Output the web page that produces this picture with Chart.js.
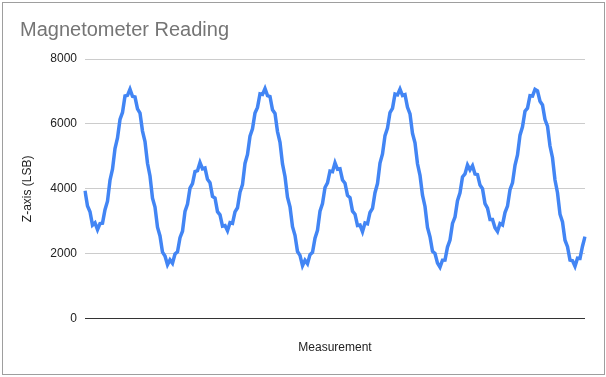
<!DOCTYPE html>
<html>
<head>
<meta charset="utf-8">
<script src="https://cdn.jsdelivr.net/npm/chart.js@4/dist/chart.umd.min.js"></script>
<style>
    html, body { margin: 0; padding: 0; background: #fff; }
    #wrap { position: relative; width: 606px; height: 377px; }
    #card { position: absolute; left: 2px; top: 2px; width: 601px; height: 371px; border: 1px solid #9e9e9e; pointer-events: none; }
</style>
</head>
<body>
<div id="wrap">
    <canvas id="magChart" width="606" height="377"></canvas>
    <div id="card"></div>
</div>
<script>
// Z-axis readings (one value every ~2.5px)
var zReadings = [
    3940, 3470, 3295, 2880, 2950, 2740, 2931, 2941, 3357, 3617,
    4265, 4603, 5242, 5565, 6138, 6353, 6859, 6879, 7070, 6849,
    6828, 6463, 6334, 5778, 5454, 4787, 4395, 3713, 3436, 2817,
    2546, 2047, 1932, 1661, 1810, 1706, 1991, 2059, 2495, 2692,
    3300, 3528, 4020, 4161, 4529, 4559, 4810, 4617, 4639, 4292,
    4189, 3765, 3715, 3296, 3198, 2851, 2868, 2710, 2956, 2937,
    3291, 3415, 3895, 4131, 4781, 5059, 5619, 5850, 6335, 6509,
    6928, 6909, 7090, 6869, 6843, 6433, 6324, 5763, 5434, 4767,
    4380, 3743, 3446, 2832, 2566, 2067, 1947, 1631, 1800, 1691,
    1971, 2039, 2480, 2722, 3310, 3543, 4040, 4181, 4544, 4529,
    4800, 4602, 4619, 4272, 4174, 3795, 3725, 3311, 3218, 2871,
    2883, 2680, 2946, 2922, 3271, 3395, 3880, 4161, 4791, 5074,
    5639, 5870, 6350, 6479, 6918, 6894, 7070, 6874, 6903, 6513,
    6309, 5708, 5414, 4772, 4415, 3803, 3456, 2807, 2521, 2072,
    2007, 1711, 1585, 1801, 1806, 2204, 2420, 2932, 3130, 3633,
    3875, 4366, 4459, 4734, 4585, 4712, 4454, 4437, 4114, 4005,
    3545, 3401, 3053, 3056, 2798, 2685, 2931, 2887, 3266, 3465,
    3970, 4181, 4726, 5044, 5654, 5910, 6390, 6484, 6868, 6859,
    7065, 7019, 6698, 6583, 6134, 5933, 5319, 4957, 4270, 3878,
    3216, 2977, 2416, 2217, 1802, 1781, 1610, 1861, 1856, 2229,
    2525
];

// measurement numbers for the x axis
var measurements = zReadings.map(function (v, i) { return i + 1; });

var yTicks = [0, 2000, 4000, 6000, 8000];

var chart = new Chart(document.getElementById('magChart'), {
    type: 'line',
    data: {
        labels: measurements,
        datasets: [{
            data: zReadings,
            borderColor: '#4285f4',
            borderWidth: 3.5,
            pointRadius: 0,
            tension: 0,
            fill: false
        }]
    },
    options: {
        responsive: false,
        animation: false,
        layout: {
            padding: { left: 20, right: 21, top: 0, bottom: 0 }
        },
        plugins: {
            legend: { display: false },
            tooltip: { enabled: false },
            title: {
                display: true,
                text: 'Magnetometer Reading',
                align: 'start',
                color: '#757575',
                font: { family: 'Arial, "Liberation Sans"', size: 20, weight: 'normal' },
                padding: { top: 18, bottom: 17 }
            }
        },
        scales: {
            x: {
                grid: { display: false, drawTicks: false },
                border: { display: false },
                ticks: { display: false },
                title: {
                    display: true,
                    text: 'Measurement',
                    color: '#222',
                    font: { family: 'Arial, "Liberation Sans"', size: 12 },
                    padding: { top: 22, bottom: 22 }
                }
            },
            y: {
                min: 0,
                max: 8000,
                afterFit: function (scale) { scale.width = 65; },
                afterBuildTicks: function (scale) {
                    scale.ticks = yTicks.map(function (v) { return { value: v }; });
                },
                grid: {
                    drawTicks: false,
                    color: function (ctx) { return ctx.tick && ctx.tick.value === 0 ? '#333' : '#ccc'; }
                },
                border: { display: false },
                ticks: {
                    padding: 8,
                    color: '#222',
                    font: { family: 'Arial, "Liberation Sans"', size: 12 },
                    callback: function (value) { return String(value); }
                },
                title: {
                    display: true,
                    text: 'Z-axis (LSB)',
                    color: '#222',
                    font: { family: 'Arial, "Liberation Sans"', size: 12 },
                    padding: { top: 0, bottom: 0 }
                }
            }
        }
    }
});
</script>
</body>
</html>
